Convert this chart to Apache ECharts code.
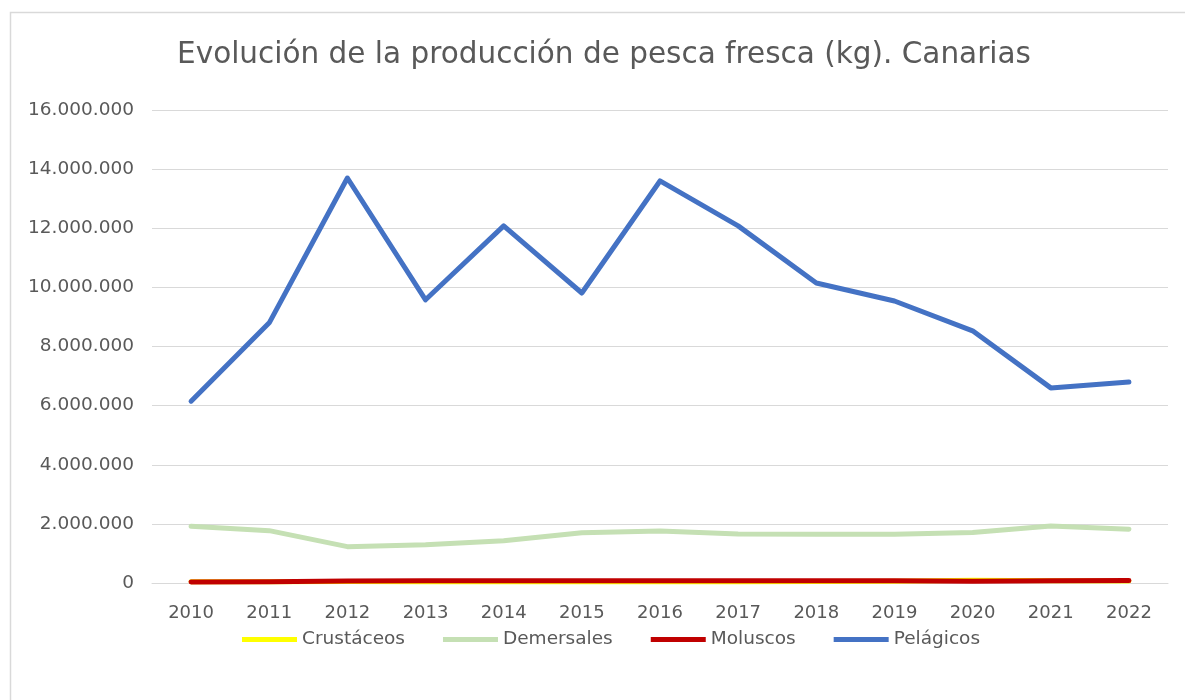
<!DOCTYPE html>
<html><head><meta charset="utf-8">
<script src="https://cdn.jsdelivr.net/npm/echarts@6/dist/echarts.min.js"></script>
<style>html,body{margin:0;padding:0;background:#fff}#c{width:1185px;height:700px}</style>
</head><body><div id="c"></div>
<script>
const years = ['2010','2011','2012','2013','2014','2015','2016','2017','2018','2019','2020','2021','2022'];
const crustaceos = [40000,45000,50000,45000,45000,45000,45000,45000,50000,60000,95000,80000,70000];
const demersales = [1920000,1770000,1230000,1290000,1430000,1700000,1760000,1660000,1650000,1650000,1710000,1930000,1820000];
const moluscos = [35000,45000,70000,75000,75000,75000,80000,80000,80000,80000,60000,80000,85000];
const pelagicos = [6150000,8800000,13700000,9580000,12080000,9810000,13600000,12080000,10150000,9540000,8530000,6600000,6800000];
const yTicks = [0,2000000,4000000,6000000,8000000,10000000,12000000,14000000,16000000];
const titleText = 'Evolución de la producción de pesca fresca (kg). Canarias';

const FONT = 'DejaVu Sans';
const chart = echarts.init(document.getElementById('c'));
function fmt(v){return String(v).replace(/\B(?=(\d{3})+(?!\d))/g,'.');}
function ser(name,data,color){
  return {name,type:'line',data,showSymbol:false,symbol:'none',smooth:false,
    lineStyle:{width:5,color,cap:'round',join:'round'},itemStyle:{color},z:2};
}
chart.setOption({
  animation:false,
  backgroundColor:'#fff',
  graphic:[
    {type:'rect',left:8,top:10,shape:{width:1200,height:720},style:{fill:'none',stroke:'#d9d9d9',lineWidth:1.5},silent:true},
    {type:'text',x:604,y:70,style:{text:titleText,textAlign:'center',textVerticalAlign:'bottom',
      font:'normal 29.5px "DejaVu Sans"',fill:'#595959'},silent:true}
  ],
  grid:{left:152,right:17,top:110,bottom:117,containLabel:false},
  legend:{top:625,left:237,icon:'rect',itemWidth:55,itemHeight:5,itemGap:38,
    textStyle:{fontFamily:FONT,fontSize:18.5,color:'#595959'},
    data:['Crustáceos','Demersales','Moluscos','Pelágicos']},
  xAxis:{type:'category',data:years,boundaryGap:true,
    axisLine:{show:true,lineStyle:{color:'#d9d9d9'}},axisTick:{show:false},
    axisLabel:{fontFamily:FONT,fontSize:18,color:'#595959',margin:21}},
  yAxis:{type:'value',min:0,max:16000000,interval:2000000,
    axisLine:{show:false},axisTick:{show:false},
    splitLine:{lineStyle:{color:'#d9d9d9',width:1}},
    axisLabel:{fontFamily:FONT,fontSize:18.5,color:'#595959',margin:18,formatter:v=>fmt(v)}},
  series:[
    ser('Crustáceos',crustaceos,'#ffff00'),
    ser('Demersales',demersales,'#c5e0b4'),
    ser('Moluscos',moluscos,'#c00000'),
    ser('Pelágicos',pelagicos,'#4472c4')
  ]
});
</script></body></html>
